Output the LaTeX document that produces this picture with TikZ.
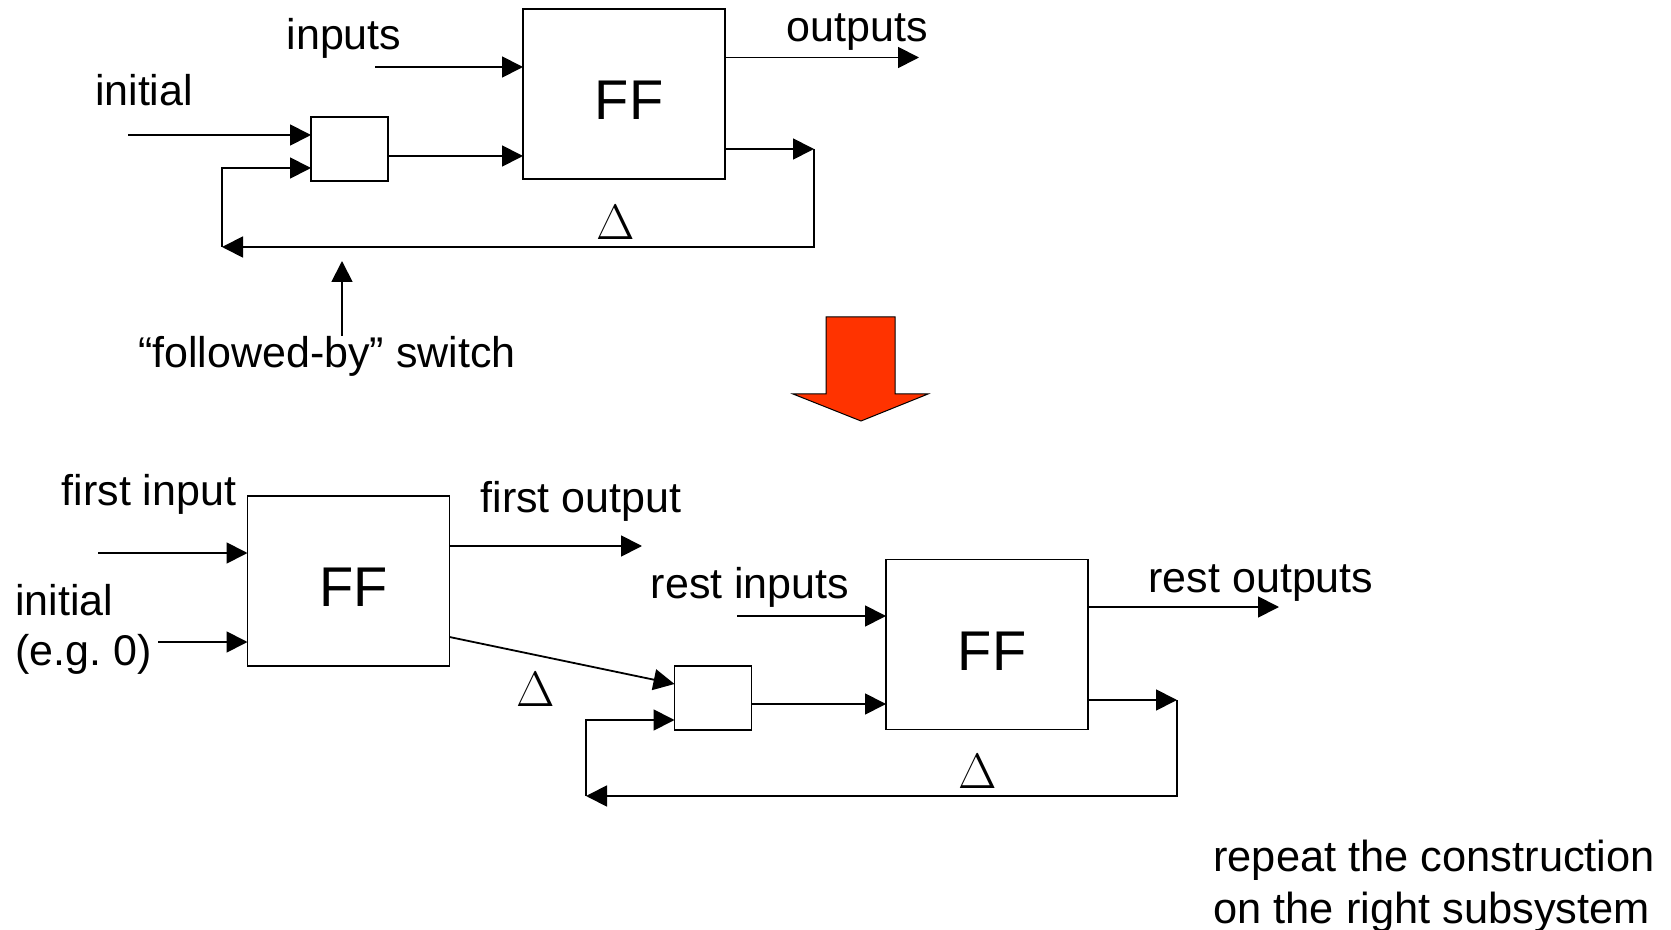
\documentclass[tikz,border=0pt]{standalone}
\usepackage{fontspec}
\setmainfont{Liberation Sans}
\newfontfamily\deltafont{Liberation Serif}
\usepackage{xcolor}
\usetikzlibrary{arrows.meta, positioning, calc}
\definecolor{downred}{HTML}{FF3300}
\newcommand{\fftext}{\hspace*{5pt}FF}

\begin{document}
\begin{tikzpicture}[
			x=0.5pt, y=-0.5pt,
			ffbox/.style={rectangle, draw=black, line width=0.9pt, minimum width=101pt,
				minimum height=85pt, inner sep=0pt, outer sep=0pt,
				text height=25.5pt, text depth=0pt,
				font=\fontsize{28}{32}\selectfont},
			swbox/.style={rectangle, draw=black, line width=0.9pt, minimum width=38.5pt,
				minimum height=32pt, inner sep=0pt, outer sep=0pt},
			lbl/.style={font=\fontsize{21.5}{25}\selectfont, inner sep=0pt, align=left},
			dlt/.style={font=\deltafont\fontsize{25}{28}\selectfont, inner sep=0pt},
			arr/.style={-{Triangle[length=10.5pt, width=10.5pt]}, line width=0.9pt}
			]
			\useasboundingbox (0,0) rectangle (1671,930);
			
			% top: one FF with its feedback through the switch
			\node[ffbox] (ffa) at (624,94) {\fftext};
			\node[swbox] (swa) at (349.5,149) {};
			
			\node[lbl] (inputs) at (344,38) {inputs};
			\node[lbl] (outputs) at (857,32) {outputs};
			\node[lbl] (inita) at (144,90) {initial};
			\node[dlt] (dlta) at (616,223) {$\Delta$};
			\node[lbl] (swlbl) at (327,356) {“followed-by” switch};
			
			\coordinate (ina) at (375,67);
			\coordinate (outa) at (919,57.5);
			\coordinate (ia) at (128,135);
			\coordinate (fba) at (814,149);
			\coordinate (lpa) at (222,247);
			\coordinate (swp) at (342,261);
			
			\draw[arr] (ina) -- (ina -| ffa.west);
			\draw[arr] (outa -| ffa.east) -- (outa);
			\draw[arr] (ia) -- (ia -| swa.west);
			\draw[arr] ([yshift=-3.5pt]swa.east) coordinate (soa) -- (soa -| ffa.west);
			\draw[arr] (fba -| ffa.east) -- (fba);
			\draw[arr] (fba) -- (fba |- lpa) -- (lpa);
			\draw[arr] (lpa) |- ([yshift=-9.5pt]swa.west);
			\draw[arr] (swp |- swlbl.north) -- (swp);
			
			% the big arrow
			\filldraw[fill=downred, draw=black, line width=0.5pt]
				(826,317) -- (895,317) -- (895,394) -- (928,394) -- (861,421)
				-- (793,394) -- (826,394) -- cycle;
			
			% bottom: first step unrolled
			\node[ffbox] (ffb) at (348.5,581) {\fftext};
			\node[swbox] (swb) at (713,698) {};
			\node[ffbox] (ffc) at (987,644.5) {\fftext};
			
			\node[lbl] (fin) at (149,494) {first input};
			\node[lbl, anchor=west] (initb) at (15,629) {initial\\(e.g.\ 0)};
			\node[lbl] (fout) at (581,501) {first output};
			\node[dlt] (dltb) at (536,689) {$\Delta$};
			\node[lbl] (rin) at (750,587) {rest inputs};
			\node[lbl] (rout) at (1261,583) {rest outputs};
			\node[dlt] (dltc) at (978,771) {$\Delta$};
			\node[lbl, anchor=west, font=\fontsize{21.7}{26}\selectfont] (rpt) at (1213,886)
				{repeat the construction\\on the right subsystem};
			
			\coordinate (inb) at (98,553);
			\coordinate (ib) at (158,642);
			\coordinate (outb) at (642,546);
			\coordinate (inc) at (737,616);
			\coordinate (outc) at (1279,607);
			\coordinate (fbc) at (1177,700);
			\coordinate (lpc) at (586,796);
			
			\draw[arr] (inb) -- (inb -| ffb.west);
			\draw[arr] (ib) -- (ib -| ffb.west);
			\draw[arr] (outb -| ffb.east) -- (outb);
			\draw[arr] ([yshift=-28pt]ffb.east) -- ([yshift=7pt]swb.west);
			\draw[arr] (inc) -- (inc -| ffc.west);
			\draw[arr] ([yshift=-3pt]swb.east) coordinate (sob) -- (sob -| ffc.west);
			\draw[arr] (outc -| ffc.east) -- (outc);
			\draw[arr] (fbc -| ffc.east) -- (fbc);
			\draw[arr] (fbc) -- (fbc |- lpc) -- (lpc);
			\draw[arr] (lpc) |- ([yshift=-11pt]swb.west);
		\end{tikzpicture}
\end{document}
